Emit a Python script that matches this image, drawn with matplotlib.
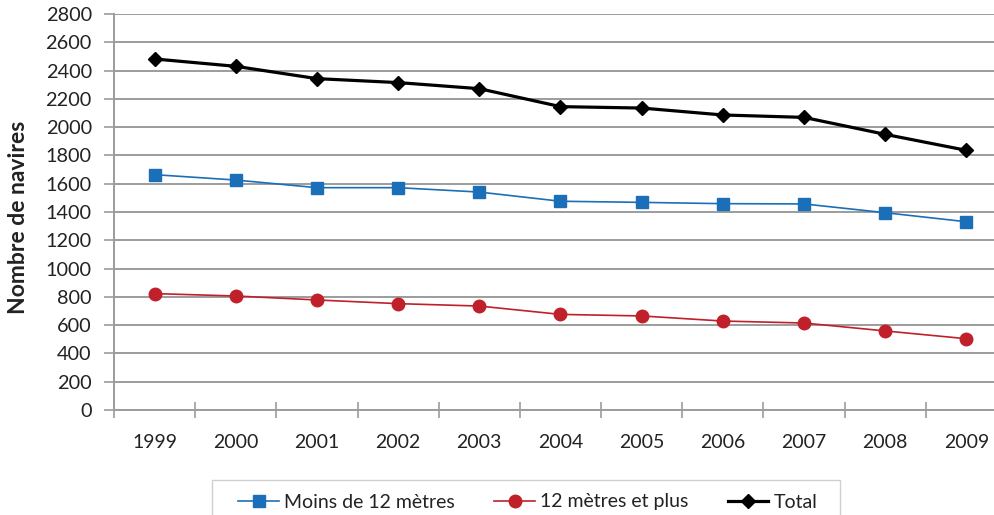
import matplotlib
matplotlib.use("Agg")
import matplotlib.pyplot as plt
from matplotlib.patches import Rectangle

years = ["1999", "2000", "2001", "2002", "2003", "2004", "2005", "2006", "2007", "2008", "2009"]
moins_12 = [1664, 1626, 1572, 1572, 1541, 1476, 1468, 1459, 1457, 1395, 1331]
plus_12 = [823, 806, 778, 752, 735, 676, 665, 629, 615, 559, 504]
total = [2482, 2430, 2343, 2315, 2272, 2145, 2135, 2086, 2069, 1949, 1836]
yticks = list(range(0, 2801, 200))

plt.rcParams['font.family'] = ['Lato', 'DejaVu Sans']

W, H = 995, 515
fig = plt.figure(figsize=(W / 100, H / 100), dpi=100)
left, right, top, bottom = 114, 1007, 14, 410
ax = fig.add_axes([left / W, (H - bottom) / H, (right - left) / W, (bottom - top) / H])

x = list(range(len(years)))
grid_c = "#9c9c9c"

ax.plot(x, moins_12, color="#1a6fb8", lw=1.2, marker="s", ms=8.5, label="Moins de 12 mètres", zorder=3)
ax.plot(x, plus_12, color="#c0202a", lw=1.2, marker="o", ms=9, label="12 mètres et plus", zorder=3)
ax.plot(x, total, color="black", lw=2.3, marker="D", ms=7.5, label="Total", zorder=4)

ax.set_xlim(-0.5, len(years) - 0.5)
ax.set_ylim(0, 2800)
ax.set_yticks(yticks)
ax.set_yticklabels([str(v) for v in yticks])
ax.yaxis.grid(True, color=grid_c, lw=1.4)
ax.set_axisbelow(True)

ax.set_xticks([i - 0.5 for i in range(len(years) + 1)])
ax.set_xticklabels([])
ax.set_xticks(x, minor=True)
ax.set_xticklabels(years, minor=True)
ax.tick_params(axis="x", which="major", direction="inout", length=12, width=1.2, color=grid_c)
ax.tick_params(axis="x", which="minor", length=0, pad=17, labelsize=14, labelcolor="#222222")
ax.tick_params(axis="y", direction="out", length=7, width=1.2, color=grid_c, labelsize=14.3,
               labelcolor="#222222", pad=9)

for s in ["top", "right"]:
    ax.spines[s].set_visible(False)
for s in ["left", "bottom"]:
    ax.spines[s].set_color(grid_c)
    ax.spines[s].set_linewidth(1.4)

fig.text(19 / W, (H - 217) / H, "Nombre de navires", rotation=90, ha="center", va="center",
         fontsize=16.5, fontweight="bold", color="#222222")

# legend frame
fig.patches.append(Rectangle((212 / W, -0.02), (840 - 212) / W, (H - 480) / H + 0.02,
                             transform=fig.transFigure, facecolor="white", edgecolor="#cfcfcf",
                             lw=1.0, zorder=0))

leg = fig.legend(loc="center", bbox_to_anchor=(528 / W, (H - 502) / H), ncol=3, frameon=False,
                 fontsize=14, handlelength=2.1, handletextpad=0.28, columnspacing=2.0,
                 borderpad=0.4)
for t in leg.get_texts():
    t.set_color("#222222")

fig.savefig("out.png", dpi=100)
